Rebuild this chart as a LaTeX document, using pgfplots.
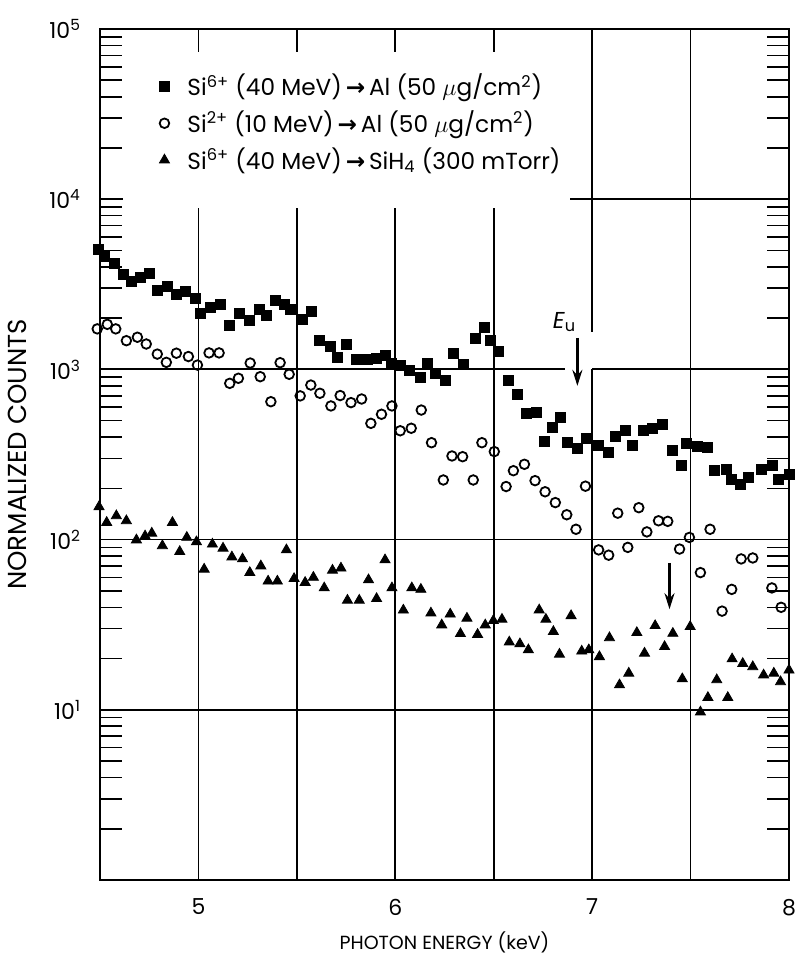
\documentclass[border=0pt]{standalone}
\usepackage{fontspec}
\setmainfont{Poppins}
\newfontfamily\djv{DejaVu Sans}
\usepackage{pgfplots}
\pgfplotsset{compat=1.18}
\usetikzlibrary{arrows.meta}

\newcommand{\arr}{{\djv\bfseries\,\symbol{"2192}\,}}

\pgfplotstableread{
x y
4.49 5100
4.524 4590
4.571 4200
4.618 3630
4.659 3300
4.703 3460
4.749 3670
4.791 2930
4.842 3090
4.888 2760
4.935 2860
4.983 2620
5.012 2120
5.063 2320
5.114 2420
5.159 1820
5.210 2120
5.257 1930
5.308 2250
5.347 2090
5.390 2560
5.435 2420
5.469 2250
5.528 1970
5.576 2180
5.617 1490
5.668 1370
5.705 1170
5.752 1410
5.800 1140
5.859 1150
5.902 1160
5.949 1215
5.978 1090
6.025 1050
6.071 980
6.127 900
6.164 1090
6.203 950
6.254 866
6.296 1250
6.347 1070
6.405 1520
6.452 1770
6.481 1480
6.523 1270
6.574 860
6.622 710
6.667 552
6.715 557
6.757 376
6.796 457
6.839 523
6.876 371
6.927 344
6.969 393
7.033 360
7.084 324
7.118 406
7.169 436
7.206 360
7.260 440
7.308 451
7.359 478
7.406 336
7.452 274
7.481 368
7.537 355
7.588 349
7.621 254
7.681 259
7.706 226
7.754 210
7.796 232
7.859 259
7.918 274
7.948 226
8.000 243
}\alsix

\pgfplotstableread{
x y
4.486 1730
4.537 1840
4.580 1730
4.634 1475
4.690 1545
4.735 1410
4.791 1230
4.837 1100
4.888 1245
4.949 1190
4.995 1060
5.054 1250
5.105 1250
5.159 828
5.203 887
5.263 1090
5.314 906
5.368 646
5.415 1095
5.461 936
5.517 699
5.571 809
5.617 724
5.673 610
5.720 702
5.775 638
5.829 670
5.876 482
5.930 545
5.983 610
6.025 436
6.081 451
6.132 577
6.184 371
6.244 224
6.288 310
6.342 307
6.396 224
6.440 371
6.503 329
6.563 205
6.600 254
6.656 277
6.710 222
6.761 191
6.813 165
6.871 140
6.918 115
6.966 206
7.033 87
7.084 81
7.130 143
7.181 90
7.237 154
7.278 111
7.337 129
7.384 128
7.444 88
7.494 103
7.550 64
7.599 115
7.660 38
7.709 51
7.757 77
7.816 78
7.913 52
7.960 40
}\altwo

\pgfplotstableread{
x y
4.495 156
4.534 126
4.583 138
4.634 129
4.685 99.5
4.729 105
4.763 109
4.817 92
4.868 126
4.905 85
4.941 103
4.990 97
5.029 67
5.071 94
5.125 89
5.170 79
5.224 77
5.261 64
5.317 70
5.354 57
5.401 57
5.447 87
5.486 59
5.542 56
5.584 60
5.639 52
5.681 66
5.724 68
5.757 44
5.817 44
5.864 58
5.905 45
5.948 76
5.983 52
6.041 38.5
6.084 52
6.130 51
6.181 37
6.236 31.5
6.279 36.5
6.331 28
6.364 34.5
6.418 27.7
6.457 31.5
6.498 33.4
6.542 34
6.579 25
6.633 24.4
6.676 22.5
6.731 38.6
6.765 34
6.803 28.8
6.834 21.2
6.893 35.7
6.947 22.1
6.983 22.5
7.037 20.5
7.088 26.5
7.139 14
7.186 16.4
7.227 28.4
7.266 21.5
7.320 31.2
7.368 23.5
7.410 28.1
7.458 15.2
7.498 30.8
7.550 9.7
7.588 11.8
7.633 15
7.689 11.8
7.711 19.9
7.765 18.7
7.816 17.9
7.871 16
7.923 16.4
7.957 14.6
8.000 17.1
}\sihfour

\begin{document}
\begin{tikzpicture}
\path[use as bounding box] (-50pt,-37pt) rectangle (348.5pt,440pt);
\begin{axis}[
    scale only axis,
    width=344.5pt, height=425.5pt,
    xmin=4.5, xmax=8,
    ymode=log, ymin=1, ymax=1e5,
    clip=false,
    xtick={5,6,7,8},
    xticklabels={5,6,7,8},
    ytick={1,10,100,1000,10000,100000},
    yticklabels={{},10\textsuperscript{1},10\textsuperscript{2},10\textsuperscript{3},10\textsuperscript{4},10\textsuperscript{5}},
    minor ytick={2,3,4,5,6,7,8,9,20,30,40,50,60,70,80,90,200,300,400,500,600,700,800,900,2000,3000,4000,5000,6000,7000,8000,9000,20000,30000,40000,50000,60000,70000,80000,90000},
    major tick length=11.5pt, minor tick length=11pt,
    every tick/.style={black, line width=0.8pt},
    axis line style={line width=1pt},
    tick label style={font=\fontsize{11}{13}\selectfont},
    yticklabel style={xshift=-6pt},
    xticklabel style={yshift=-6pt},
    xlabel={PHOTON ENERGY (keV)},
    ylabel={NORMALIZED COUNTS},
    xlabel style={font=\fontsize{9.5}{11}\selectfont, at={(axis description cs:0.5,-0.073)}, anchor=center},
    ylabel style={font=\fontsize{13}{15}\selectfont, at={(axis description cs:-0.12,0.5)}, anchor=center},
    legend style={at={(axis description cs:0.077,0.957)}, anchor=north west,
        draw=none, fill=none, row sep=2pt,
        font=\fontsize{11.6}{13.5}\selectfont,
        /tikz/every odd column/.append style={column sep=7pt}},
    legend cell align=left,
]
% grid lines, broken where the legend and the E_u marker sit
\draw[line width=0.9pt] (axis cs:5,1) -- (axis cs:5,8850);
\draw[line width=0.9pt] (axis cs:5.5,1) -- (axis cs:5.5,8850);
\draw[line width=0.9pt] (axis cs:6,1) -- (axis cs:6,8850);
\draw[line width=0.9pt] (axis cs:6.5,1) -- (axis cs:6.5,8850);
\draw[line width=0.9pt] (axis cs:7,1) -- (axis cs:7,1000);
\draw[line width=0.9pt] (axis cs:7,1660) -- (axis cs:7,1e5);
\draw[line width=0.9pt] (axis cs:7.5,1) -- (axis cs:7.5,1e5);
\draw[line width=0.9pt] (axis cs:4.5,10) -- (axis cs:8,10);
\draw[line width=0.9pt] (axis cs:4.5,100) -- (axis cs:8,100);
\draw[line width=0.9pt] (axis cs:4.5,1000) -- (axis cs:6.86,1000);
\draw[line width=0.9pt] (axis cs:7,1000) -- (axis cs:8,1000);
\draw[line width=0.9pt] (axis cs:6.89,10000) -- (axis cs:8,10000);
% short top ticks at the half keV
\draw[line width=0.8pt] (axis cs:5.5,1e5) -- (axis cs:5.5,73000);
\draw[line width=0.8pt] (axis cs:6.5,1e5) -- (axis cs:6.5,73000);

\addplot[only marks, mark=square*, mark size=2.5pt, black] table {\alsix};
\addlegendentry{Si\textsuperscript{6+} (40 MeV)\arr Al (50 $\mu$g/cm\textsuperscript{2})}
\addplot[only marks, mark=o, mark size=2.4pt, black, mark options={line width=0.9pt, fill=white}] table {\altwo};
\addlegendentry{Si\textsuperscript{2+} (10 MeV)\arr Al (50 $\mu$g/cm\textsuperscript{2})}
\addplot[only marks, mark=triangle*, mark size=2.9pt, black] table {\sihfour};
\addlegendentry{Si\textsuperscript{6+} (40 MeV)\arr SiH\textsubscript{4} (300 mTorr)}

\draw[line width=1.2pt, -{Stealth[length=8pt, width=5pt]}] (axis cs:6.925,1530) -- (axis cs:6.925,800);
\node[font=\fontsize{11.5}{13}\selectfont] at (axis cs:6.86,1900) {\textit{E}\textsubscript{u}};
\draw[line width=1.2pt, -{Stealth[length=8pt, width=5pt]}] (axis cs:7.393,73) -- (axis cs:7.393,39);
\end{axis}
\end{tikzpicture}
\end{document}
